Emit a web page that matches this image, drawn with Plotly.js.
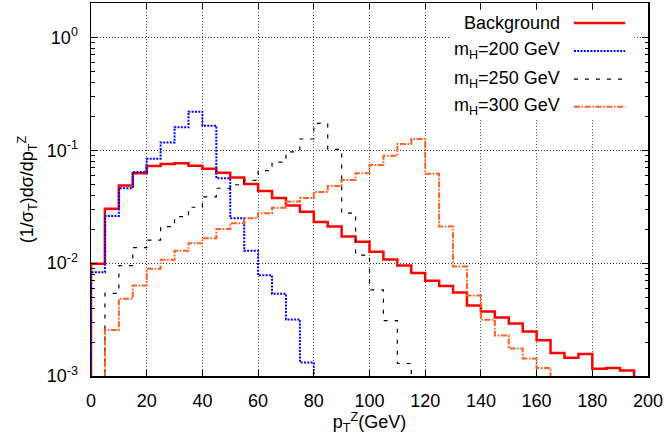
<!DOCTYPE html>
<html>
<head>
<meta charset="utf-8">
<script src="https://cdn.plot.ly/plotly-3.0.1.min.js"></script>
<style>html,body{margin:0;padding:0;background:#fff;}#chart{width:666px;height:435px;}</style>
</head>
<body>
<div id="chart"></div>
<script>
// Lower edges of the 5 GeV pT bins
var binLow = [0,5,10,15,20,25,30,35,40,45,50,55,60,65,70,75,80,85,90,95,100,105,110,115,120,125,130,135,140,145,150,155,160,165,170,175,180,185,190];
var binWidth = 5;

var background = [0.0099,0.0303,0.0487,0.0625,0.0726,0.0756,0.0767,0.0730,0.0687,0.0634,0.0573,0.0503,0.0437,0.0378,0.0324,0.0285,0.0232,0.0211,0.0172,0.0155,0.01265,0.0108,0.00952,0.00816,0.00700,0.00627,0.00549,0.00422,0.00373,0.00330,0.00292,0.00248,0.00207,0.00160,0.00145,0.00157,0.00116,0.00118,0.00112];
var mH200 = [0.0083,0.0262,0.0461,0.0643,0.0843,0.117,0.160,0.220,0.165,0.0565,0.0250,0.01285,0.0078,0.00535,0.00317,0.00132];
var mH250 = [0.0005,0.0054,0.0095,0.0137,0.0160,0.0211,0.0258,0.0313,0.0386,0.0461,0.0495,0.0542,0.066,0.0787,0.097,0.126,0.173,0.102,0.0277,0.0118,0.0058,0.0031,0.00129];
var mH300 = [0.0005,0.00256,0.00483,0.00634,0.0089,0.0107,0.0129,0.0150,0.0166,0.0201,0.0226,0.0250,0.0277,0.0310,0.0351,0.0378,0.0428,0.0483,0.0546,0.0625,0.0741,0.0896,0.114,0.126,0.0619,0.0211,0.00933,0.00517,0.00315,0.00228,0.00175,0.00143,0.00118];

var seriesNames = ['Background','m<sub>H</sub>=200 GeV','m<sub>H</sub>=250 GeV','m<sub>H</sub>=300 GeV'];
var yTickVals = [0.001,0.01,0.1,1];
var yTickText = ['10<sup>-3</sup>','10<sup>-2</sup>','10<sup>-1</sup>','10<sup>0</sup>'];
var xTickVals = [0,20,40,60,80,100,120,140,160,180,200];

var FLOOR = 1e-5;
function stepXY(vals){
  var n = vals.length, xs = [binLow[0]], ys = [FLOOR];
  for (var i=0;i<n;i++){ xs.push(binLow[i]); ys.push(vals[i]); }
  var hi = binLow[n-1] + binWidth;
  xs.push(hi); ys.push(vals[n-1]);
  xs.push(hi); ys.push(FLOOR);
  return {x:xs, y:ys};
}

var styles = [
  {color:'#ff0000', width:2.5, dash:'solid'},
  {color:'#0000ff', width:2, dash:'2px,1.3px'},
  {color:'#000000', width:1.2, dash:'4px,7px'},
  {color:'#ff5f1f', width:2, dash:'6px,1.6px,1.6px,1.6px'}
];
var allSeries = [background, mH200, mH250, mH300];

var traces = allSeries.map(function(v,i){
  var s = stepXY(v);
  return {x:s.x, y:s.y, type:'scatter', mode:'lines', name:seriesNames[i],
          line:{shape:'hv', color:styles[i].color, width:styles[i].width, dash:styles[i].dash},
          showlegend:false, hoverinfo:'skip'};
});

// minor ticks for log axis
var minorVals = [];
[0.001,0.01,0.1,1].forEach(function(d){ for(var k=2;k<=9;k++){ var v=d*k; if (v<=2.02) minorVals.push(v);} });

// custom gnuplot-style key (text then sample)
var legendY = [0.9465, 0.8715, 0.7958, 0.7216];
var shapes = [{type:'rect', xref:'paper', yref:'paper', x0:0.645, x1:0.976, y0:0.692, y1:0.980,
               fillcolor:'#ffffff', line:{width:0}, layer:'above'}];
var annotations = [];
legendY.forEach(function(yy,i){
  shapes.push({type:'line', xref:'paper', yref:'paper', x0:0.867, x1:0.959, y0:yy, y1:yy,
               line:{color:styles[i].color, width:styles[i].width, dash:styles[i].dash}, layer:'above'});
  annotations.push({xref:'paper', yref:'paper', x:0.846, y:yy, xanchor:'right', yanchor:'middle',
               text:seriesNames[i], showarrow:false, font:{size:18, color:'#000'}});
});

var font = {family:'"Liberation Sans", Arial, sans-serif', size:18, color:'#000'};
var layout = {
  width:666, height:435,
  margin:{l:91, r:18, t:3, b:59},
  paper_bgcolor:'#fff', plot_bgcolor:'#fff',
  font:font,
  showlegend:false,
  xaxis:{range:[0,200], tickvals:xTickVals, ticks:'inside', ticklen:6, tickwidth:1, tickcolor:'#000',
         showline:true, linecolor:'#000', linewidth:1.5, mirror:'allticks', zeroline:false,
         showgrid:true, gridcolor:'#555', griddash:'1px,2px', gridwidth:1,
         ticklabelstandoff:8,
         title:{text:'p<sub>T</sub><sup>Z</sup>(GeV)', font:{size:18}, standoff:6}},
  yaxis:{type:'log', range:[-3, Math.log10(2.02)], tickvals:yTickVals, ticktext:yTickText,
         ticks:'inside', ticklen:6, tickwidth:1, tickcolor:'#000',
         showline:true, linecolor:'#000', linewidth:1.5, mirror:'allticks', zeroline:false,
         showgrid:true, gridcolor:'#333', griddash:'1px,2px', gridwidth:1,
         ticklabelstandoff:8,
         minor:{tickvals:minorVals, ticks:'inside', ticklen:3.5, tickcolor:'#000', showgrid:false},
         title:{text:'(1/σ<sub>T</sub>)dσ/dp<sub>T</sub><sup>Z</sup>', font:{size:18}, standoff:8}},
  shapes:shapes,
  annotations:annotations
};
Plotly.newPlot('chart', traces, layout, {staticPlot:true, displayModeBar:false});
</script>
</body>
</html>
